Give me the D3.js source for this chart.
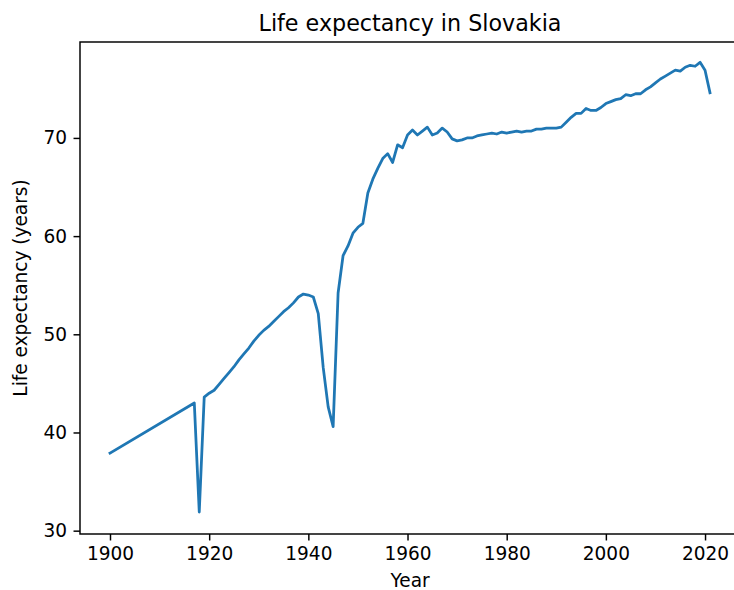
<!DOCTYPE html>
<html>
<head>
<meta charset="utf-8">
<script src="https://cdn.jsdelivr.net/npm/d3@7"></script>
<style>
  body { margin: 0; background: #fff; }
  text { font-family: "DejaVu Sans", sans-serif; fill: #000; }
</style>
</head>
<body>
<div class="chart"></div>
<script>
// life expectancy values
const years = [1900, 1917, 1918, 1919, 1920, 1921, 1922, 1923, 1924, 1925, 1926, 1927, 1928, 1929,
  1930, 1931, 1932, 1933, 1934, 1935, 1936, 1937, 1938, 1939, 1940, 1941, 1942, 1943, 1944, 1945,
  1946, 1947, 1948, 1949, 1950, 1951, 1952, 1953, 1954, 1955, 1956, 1957, 1958, 1959, 1960, 1961,
  1962, 1963, 1964, 1965, 1966, 1967, 1968, 1969, 1970, 1971, 1972, 1973, 1974, 1975, 1976, 1977,
  1978, 1979, 1980, 1981, 1982, 1983, 1984, 1985, 1986, 1987, 1988, 1989, 1990, 1991, 1992, 1993,
  1994, 1995, 1996, 1997, 1998, 1999, 2000, 2001, 2002, 2003, 2004, 2005, 2006, 2007, 2008, 2009,
  2010, 2011, 2012, 2013, 2014, 2015, 2016, 2017, 2018, 2019, 2020, 2021];
const lifeExp = [37.9, 43.0, 31.9, 43.6, 44.0, 44.3, 44.9, 45.5, 46.1, 46.7, 47.4, 48.0, 48.6, 49.3,
  49.9, 50.4, 50.8, 51.3, 51.8, 52.3, 52.7, 53.2, 53.8, 54.1, 54.0, 53.8, 52.1, 46.6, 42.6, 40.6,
  54.2, 58.0, 59.0, 60.3, 60.9, 61.3, 64.4, 65.8, 66.9, 67.9, 68.4, 67.5, 69.3, 69.0, 70.3, 70.8,
  70.3, 70.7, 71.1, 70.3, 70.5, 71.0, 70.6, 69.9, 69.7, 69.8, 70.0, 70.0, 70.2, 70.3, 70.4, 70.5,
  70.4, 70.6, 70.5, 70.6, 70.7, 70.6, 70.7, 70.7, 70.9, 70.9, 71.0, 71.0, 71.0, 71.1, 71.6, 72.1,
  72.5, 72.5, 73.0, 72.8, 72.8, 73.1, 73.5, 73.7, 73.9, 74.0, 74.4, 74.3, 74.5, 74.5, 74.9, 75.2,
  75.6, 76.0, 76.3, 76.6, 76.9, 76.8, 77.2, 77.4, 77.3, 77.7, 76.9, 74.6];

const xTicks = [1900, 1920, 1940, 1960, 1980, 2000, 2020];
const yTicks = [30, 40, 50, 60, 70];

const data = years.map((y, i) => ({year: y, value: lifeExp[i]}));

const W = 734, H = 590;
const margin = { left: 80, top: 42, right: 740, bottom: 534 };
const k = 1.333; // figure looks scaled up from 100 dpi

const svg = d3.select(".chart").append("svg")
  .attr("width", W)
  .attr("height", H);

const x = d3.scaleLinear()
  .domain([1893.95, 2027.05])
  .range([margin.left, margin.right]);

const y = d3.scaleLinear()
  .domain([29.66, 79.77])
  .range([margin.bottom, margin.top]);

const line = d3.line()
  .x(d => x(d.year))
  .y(d => y(d.value));

svg.append("path")
  .datum(data)
  .attr("fill", "none")
  .attr("stroke", "#1f77b4")
  .attr("stroke-width", 2.08 * k)
  .attr("stroke-linejoin", "round")
  .attr("stroke-linecap", "square")
  .attr("d", line);

// axes
const tick = 4.86 * k;
const xAxis = svg.append("g")
  .attr("transform", `translate(0,${margin.bottom})`)
  .call(d3.axisBottom(x).tickValues(xTicks).tickFormat(d3.format("d")).tickSize(tick).tickPadding(tick));

const yAxis = svg.append("g")
  .attr("transform", `translate(${margin.left},0)`)
  .call(d3.axisLeft(y).tickValues(yTicks).tickSize(tick).tickPadding(tick));

[xAxis, yAxis].forEach(g => {
  g.select(".domain").remove();
  g.selectAll(".tick line").attr("stroke", "#000").attr("stroke-width", 1.1 * k);
  g.selectAll(".tick text")
    .style("font-family", "DejaVu Sans, sans-serif")
    .style("font-size", (13.9 * k) + "px")
    .attr("fill", "#000");
});

// frame
svg.append("rect")
  .attr("x", margin.left)
  .attr("y", margin.top)
  .attr("width", margin.right - margin.left)
  .attr("height", margin.bottom - margin.top)
  .attr("fill", "none")
  .attr("stroke", "#000")
  .attr("stroke-width", 1.1 * k);

const cx = (margin.left + margin.right) / 2;

svg.append("text")
  .attr("x", cx)
  .attr("y", 31)
  .attr("text-anchor", "middle")
  .style("font-size", (16.67 * k) + "px")
  .text("Life expectancy in Slovakia");

svg.append("text")
  .attr("x", cx)
  .attr("y", 587)
  .attr("text-anchor", "middle")
  .style("font-size", (13.9 * k) + "px")
  .text("Year");

svg.append("text")
  .attr("transform", `translate(27,${(margin.top + margin.bottom) / 2}) rotate(-90)`)
  .attr("text-anchor", "middle")
  .style("font-size", (13.9 * k) + "px")
  .text("Life expectancy (years)");
</script>
</body>
</html>
